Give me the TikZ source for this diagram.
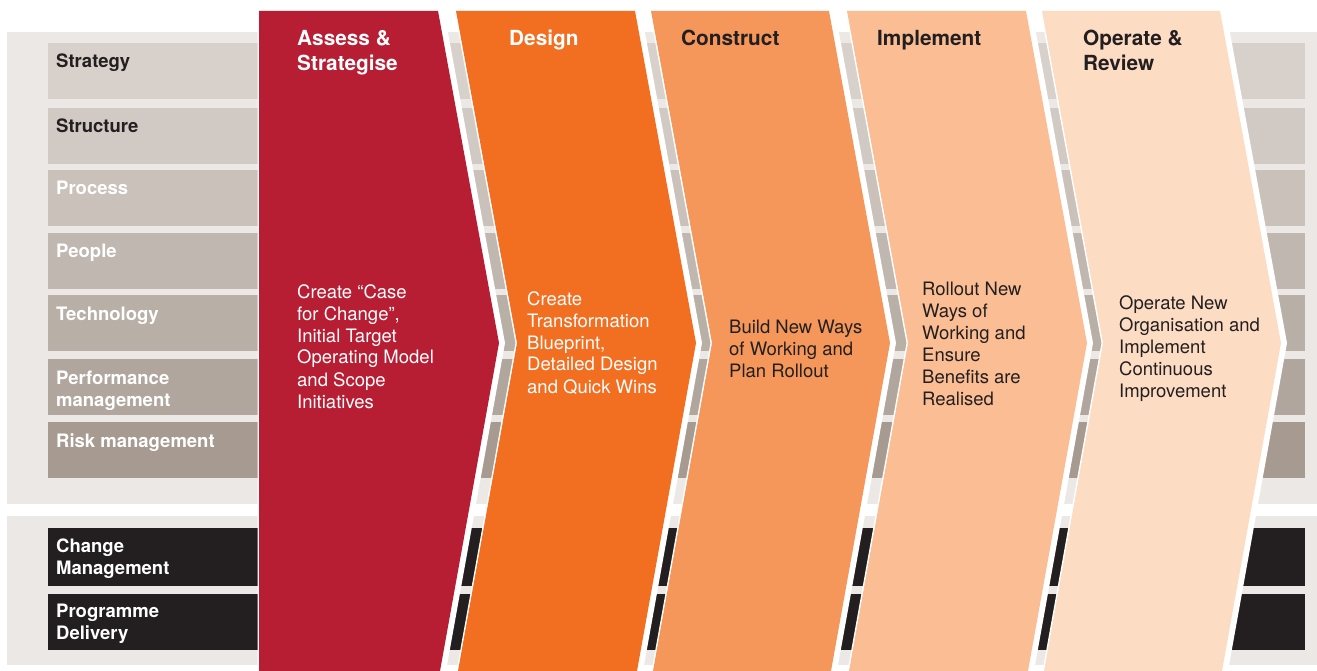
\documentclass[tikz,border=0pt]{standalone}
\usepackage{fontspec}
\setmainfont{TeX Gyre Heros}
\definecolor{panel}{HTML}{ECE8E5}
\definecolor{rowA}{HTML}{D8D1CB}
\definecolor{rowB}{HTML}{D1CAC4}
\definecolor{rowC}{HTML}{C9C1BA}
\definecolor{rowD}{HTML}{C0B7B0}
\definecolor{rowE}{HTML}{B8AFA7}
\definecolor{rowF}{HTML}{B0A69E}
\definecolor{rowG}{HTML}{A69A91}
\definecolor{ink}{HTML}{231F20}
\definecolor{chA}{HTML}{B71E34}
\definecolor{chB}{HTML}{F26E21}
\definecolor{chC}{HTML}{F5975A}
\definecolor{chD}{HTML}{FBBE94}
\definecolor{chE}{HTML}{FDDCC4}
\newcommand{\mlines}[1]{\begin{tabular}[t]{@{}l@{}}#1\end{tabular}}
\newcommand{\labfont}{\fontsize{18.5}{22}\selectfont\bfseries}
\newcommand{\titfont}{\fontsize{20.8}{24.5}\selectfont\bfseries}
\newcommand{\bodfont}{\fontsize{18.5}{22}\selectfont}
\begin{document}
\begin{tikzpicture}[x=1pt,y=-1pt,
  lab/.style={anchor=base west,inner sep=0pt,font=\labfont},
  tit/.style={anchor=base west,inner sep=0pt,font=\titfont},
  bod/.style={anchor=base west,inner sep=0pt,font=\bodfont}]
\useasboundingbox (0,0) rectangle (1317,671);
\fill[white] (0,0) rectangle (1317,671);
% panels
\fill[panel] (7,32) rectangle (1317,504);
\fill[panel] (7,516) rectangle (1317,665);
% row bands
\foreach \t/\b/\c in {43/99/rowA,108/164/rowB,170/226/rowC,233/289/rowD,295/351/rowE,359/415/rowF,422/478/rowG,528/586/ink,594/650/ink}
  \fill[\c] (48,\t) rectangle (1305,\b);
% chevron 1
\fill[white] (257.5,11) -- (444,11) -- (505,343) -- (446,671) -- (257.5,671) -- cycle;
\fill[chA] (259,11) -- (438,11) -- (499,343) -- (440,671) -- (259,671) -- cycle;
% chevrons 2-5
\foreach \L/\R/\c in {456/635/chB,651/829/chC,847/1026/chD,1042/1220/chE}{
  \fill[white] (\L-1.5,11) -- (\R+6,11) -- (\R+67,343) -- (\R+8,671) -- (\L+0.5,671) -- (\L+59.5,343) -- cycle;
  \fill[\c] (\L,11) -- (\R,11) -- (\R+61,343) -- (\R+2,671) -- (\L+2,671) -- (\L+61,343) -- cycle;
}
% row labels
\node[lab,text=ink] (strategy) at (56,68) {Strategy};
\node[lab,text=ink] (structure) at (56,133) {Structure};
\node[lab,text=white] (process) at (56,195) {Process};
\node[lab,text=white] (people) at (56,258) {People};
\node[lab,text=white] (technology) at (56,320) {Technology};
\node[lab,text=white] (performance) at (56,384) {\mlines{Performance\\management}};
\node[lab,text=white] (risk) at (56,447) {Risk management};
\node[lab,text=white] (change) at (56,552) {\mlines{Change\\Management}};
\node[lab,text=white] (programme) at (56,617) {\mlines{Programme\\Delivery}};
% titles
\node[tit,text=white] (tA) at (297,46) {\mlines{Assess \&\\Strategise}};
\node[tit,text=white] (tB) at (509,46) {Design};
\node[tit,text=ink] (tC) at (681,46) {Construct};
\node[tit,text=ink] (tD) at (877,46) {Implement};
\node[tit,text=ink] (tE) at (1083,46) {\mlines{Operate \&\\Review}};
% bodies
\node[bod,text=white] (bA) at (297,298) {\mlines{Create “Case\\for Change”,\\Initial Target\\Operating Model\\and Scope\\Initiatives}};
\node[bod,text=white] (bB) at (527,305) {\mlines{Create\\Transformation\\Blueprint,\\Detailed Design\\and Quick Wins}};
\node[bod,text=ink] (bC) at (729,333) {\mlines{Build New Ways\\of Working and\\Plan Rollout}};
\node[bod,text=ink] (bD) at (922,295) {\mlines{Rollout New\\Ways of\\Working and\\Ensure\\Benefits are\\Realised}};
\node[bod,text=ink] (bE) at (1119,309) {\mlines{Operate New\\Organisation and\\Implement\\Continuous\\Improvement}};
\end{tikzpicture}
\end{document}
